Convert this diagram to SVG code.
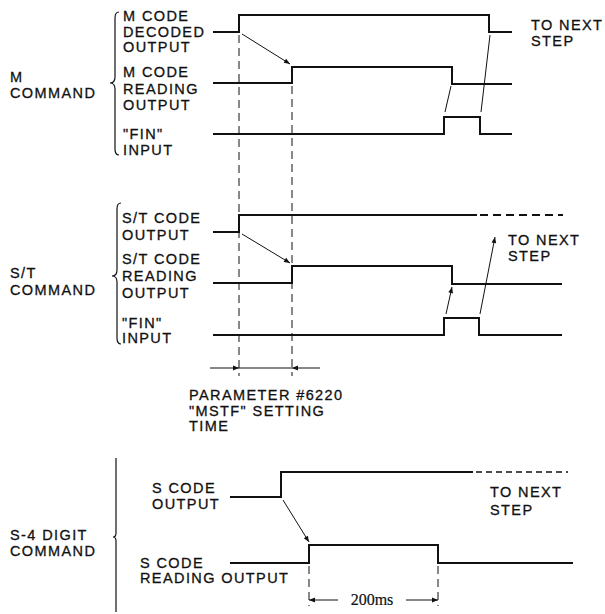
<svg xmlns="http://www.w3.org/2000/svg" width="605" height="614" viewBox="0 0 605 614">
<style>
text{font-family:"Liberation Sans",Arial,sans-serif;font-size:14.5px;letter-spacing:1.4px;fill:#111;stroke:#111;stroke-width:0.3}
.sig{fill:none;stroke:#111;stroke-width:2}
.sigd{fill:none;stroke:#111;stroke-width:2;stroke-dasharray:8 5}
.thin{fill:none;stroke:#111;stroke-width:1}
.dash{fill:none;stroke:#111;stroke-width:1;stroke-dasharray:8 5}
.brace{fill:none;stroke:#111;stroke-width:1.2}
.ms{font-family:"Liberation Serif","Times New Roman",serif;font-size:16px;letter-spacing:0;stroke-width:0.2}
</style>
<defs>
<marker id="ah" viewBox="0 0 10 10" refX="10" refY="5" markerWidth="8" markerHeight="6" orient="auto" markerUnits="userSpaceOnUse">
<path d="M0,1 L10,5 L0,9 Z" fill="#111"/>
</marker>
</defs>

<g id="m-command">
<text x="10" y="82">M</text>
<text x="10" y="97.5">COMMAND</text>
<path class="brace" d="M119,12 Q115,12 115,18 L115,77 Q115,83 110,83 Q115,83 115,89 L115,149 Q115,155 119,155"/>
</g>
<g id="m-decoded">
<text x="123" y="21">M CODE</text>
<text x="123" y="36.5">DECODED</text>
<text x="123" y="52">OUTPUT</text>
<path class="sig" d="M213,32 H239 V15 H489 V32 H512"/>
</g>
<g id="m-reading">
<text x="123" y="77">M CODE</text>
<text x="123" y="93.5">READING</text>
<text x="123" y="110">OUTPUT</text>
<path class="sig" d="M213,83 H292 V67 H452 V84 H512"/>
</g>
<g id="m-fin">
<text x="123" y="139">"FIN"</text>
<text x="123" y="154.5">INPUT</text>
<path class="sig" d="M213,134 H444 V117 H480 V134 H512"/>
</g>
<g id="m-next">
<text x="531" y="30">TO NEXT</text>
<text x="531" y="46">STEP</text>
</g>

<g id="st-command">
<text x="10" y="278">S/T</text>
<text x="10" y="295">COMMAND</text>
<path class="brace" d="M121,203 Q117,203 117,209 L117,270 Q117,276 112,276 Q117,276 117,282 L117,338 Q117,344 121,344"/>
</g>
<g id="st-output">
<text x="122" y="223">S/T CODE</text>
<text x="122" y="240">OUTPUT</text>
<path class="sig" d="M213,232 H239 V215 H477"/>
<path class="sigd" d="M480,215 H563"/>
</g>
<g id="st-reading">
<text x="122" y="264">S/T CODE</text>
<text x="122" y="281">READING</text>
<text x="122" y="298">OUTPUT</text>
<path class="sig" d="M213,283 H292 V266 H452 V284 H562"/>
</g>
<g id="st-fin">
<text x="122" y="327.5">"FIN"</text>
<text x="122" y="343">INPUT</text>
<path class="sig" d="M213,335 H444 V318 H479 V335 H562"/>
</g>
<g id="st-next">
<text x="508" y="245">TO NEXT</text>
<text x="508" y="261">STEP</text>
</g>

<g id="parameter">
<text x="189" y="400">PARAMETER #6220</text>
<text x="189" y="415.5">"MSTF" SETTING</text>
<text x="189" y="431">TIME</text>
</g>

<g id="s4-command">
<text x="10" y="540">S-4 DIGIT</text>
<text x="10" y="555.5">COMMAND</text>
<path class="brace" d="M116,458 L116,533 Q116,537 113,537 Q116,537 116,541 L116,612"/>
</g>
<g id="s-output">
<text x="152" y="493">S CODE</text>
<text x="152" y="509">OUTPUT</text>
<path class="sig" d="M230,497 H281 V472 H473"/>
<path class="sigd" d="M476,472 H568" style="stroke-width:1.3;stroke-dasharray:6 4"/>
</g>
<g id="s-reading">
<text x="140" y="567.5">S CODE</text>
<text x="140" y="583">READING OUTPUT</text>
<path class="sig" d="M230,563 H309 V545 H438 V563 H573"/>
</g>
<g id="s-next">
<text x="490" y="497">TO NEXT</text>
<text x="490" y="515">STEP</text>
</g>

<g id="connectors">
<path class="dash" d="M239,35 V376"/>
<path class="dash" d="M292,86 V376"/>
<path class="dash" d="M309,566 V606"/>
<path class="dash" d="M438,566 V606"/>
<path class="thin" d="M210,368 H239" marker-end="url(#ah)"/>
<path class="thin" d="M320,368 H292" marker-end="url(#ah)"/>
<path class="thin" d="M239,368 H292"/>
<path class="thin" d="M242,34 L290,64" marker-end="url(#ah)"/>
<path class="thin" d="M445,112 L451,86"/>
<path class="thin" d="M481,112 L490,35"/>
<path class="thin" d="M242,234 L290,263" marker-end="url(#ah)"/>
<path class="thin" d="M446,314 L452,287" marker-end="url(#ah)"/>
<path class="thin" d="M480,314 L495,237" marker-end="url(#ah)"/>
<path class="thin" d="M283,500 L309,542" marker-end="url(#ah)"/>
<path class="thin" d="M338,600 H309" marker-end="url(#ah)"/>
<path class="thin" d="M406,600 H438" marker-end="url(#ah)"/>
<text class="ms" x="372" y="605" text-anchor="middle">200ms</text>
</g>
</svg>
